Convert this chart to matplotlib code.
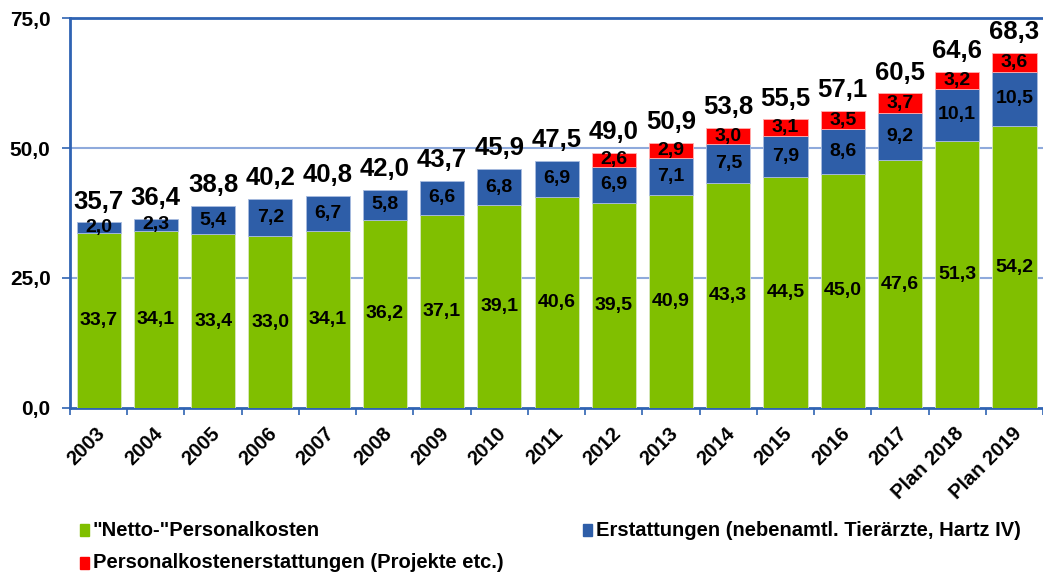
import matplotlib
matplotlib.use("Agg")
import matplotlib.pyplot as plt
from matplotlib.patches import Rectangle

categories = ["2003", "2004", "2005", "2006", "2007", "2008", "2009", "2010", "2011",
              "2012", "2013", "2014", "2015", "2016", "2017", "Plan 2018", "Plan 2019"]
netto = [33.7, 34.1, 33.4, 33.0, 34.1, 36.2, 37.1, 39.1, 40.6, 39.5, 40.9, 43.3, 44.5, 45.0, 47.6, 51.3, 54.2]
erstattungen = [2.0, 2.3, 5.4, 7.2, 6.7, 5.8, 6.6, 6.8, 6.9, 6.9, 7.1, 7.5, 7.9, 8.6, 9.2, 10.1, 10.5]
projekte = [0, 0, 0, 0, 0, 0, 0, 0, 0, 2.6, 2.9, 3.0, 3.1, 3.5, 3.7, 3.2, 3.6]
totals = [35.7, 36.4, 38.8, 40.2, 40.8, 42.0, 43.7, 45.9, 47.5, 49.0, 50.9, 53.8, 55.5, 57.1, 60.5, 64.6, 68.3]
series_names = ['"Netto-"Personalkosten', "Erstattungen (nebenamtl. Tierärzte, Hartz IV)",
                "Personalkostenerstattungen (Projekte etc.)"]
yticks = [0, 25, 50, 75]

GREEN = "#80BF00"
BLUE = "#2E5EA8"
RED = "#FF0000"
AXC = "#2F63B3"
GRID = "#8FAADC"

plt.rcParams['font.family'] = ['Liberation Sans', 'DejaVu Sans']

fig = plt.figure(figsize=(10.43, 5.76), dpi=100)
ax = fig.add_axes([0.0671, 0.2917, 0.933, 0.677])

x = list(range(len(categories)))
w = 0.77
ax.bar(x, netto, width=w, color=GREEN, edgecolor="#D8E8C0", linewidth=0.6, zorder=3)
ax.bar(x, erstattungen, width=w, bottom=netto, color=BLUE, edgecolor="#A8BCE0", linewidth=0.6, zorder=3)
b2 = [a + b for a, b in zip(netto, erstattungen)]
ax.bar(x, projekte, width=w, bottom=b2, color=RED, edgecolor="#FFB0B0",
       linewidth=[0.6 if v > 0 else 0 for v in projekte], zorder=3)

def fmt(v):
    return f"{v:.1f}".replace(".", ",")

SEG = 14
for i in x:
    ax.text(i, netto[i] / 2, fmt(netto[i]), ha="center", va="center",
            fontsize=SEG, fontweight="bold", zorder=5)
    ax.text(i, netto[i] + erstattungen[i] / 2, fmt(erstattungen[i]), ha="center", va="center",
            fontsize=SEG, fontweight="bold", zorder=5)
    if projekte[i] > 0:
        ax.text(i, b2[i] + projekte[i] / 2, fmt(projekte[i]), ha="center", va="center",
                fontsize=SEG, fontweight="bold", zorder=5)
    ax.text(i, totals[i] + 1.7, fmt(totals[i]), ha="center", va="bottom",
            fontsize=18.5, fontweight="bold", zorder=5)

ax.set_xlim(-0.5, len(categories) - 0.5)
ax.set_ylim(0, 75)
ax.set_yticks(yticks)
ax.set_yticklabels([fmt(v) for v in yticks], fontsize=15, fontweight="bold")
for v in [25, 50]:
    ax.axhline(v, color=GRID, linewidth=1.5, zorder=1)
ax.axhline(75, color=AXC, linewidth=2, zorder=1, clip_on=False)

ax.set_xticks([i - 0.5 for i in range(len(categories) + 1)], minor=False)
ax.set_xticklabels([])
ax.tick_params(axis="x", length=5, width=1.2, color=AXC, direction="out")
ax.tick_params(axis="y", length=6, width=1.2, color=AXC, direction="out", pad=8)
for i, c in enumerate(categories):
    ax.text(i - 0.05, -3.0, c, rotation=45, ha="right", va="top", rotation_mode="anchor",
            fontsize=14.5, fontweight="bold", transform=ax.transData)

for s in ["top", "right"]:
    ax.spines[s].set_visible(False)
ax.spines["left"].set_color(AXC)
ax.spines["left"].set_linewidth(2)
ax.spines["bottom"].set_color(AXC)
ax.spines["bottom"].set_linewidth(2)

# legend
leg_items = [(84, 530, GREEN, series_names[0]), (587, 530, BLUE, series_names[1]),
             (84, 563, RED, series_names[2])]
for px, py, col, txt in leg_items:
    fx = px / 1043
    fy = 1 - py / 576
    fig.patches.append(Rectangle((fx - 4 / 1043, fy - 6 / 576), 9 / 1043, 12 / 576,
                                 transform=fig.transFigure, color=col, figure=fig))
    fig.text(fx + 9 / 1043, fy, txt, ha="left", va="center", fontsize=14.5, fontweight="bold")

fig.savefig("out.png", dpi=100)
